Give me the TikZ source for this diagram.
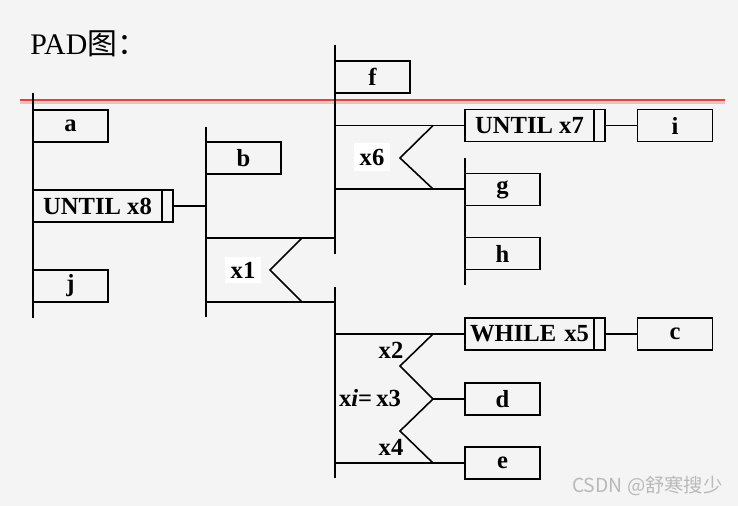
\documentclass[tikz,border=0pt]{standalone}
\usepackage{fontspec}
\setmainfont{Liberation Serif}
\newfontfamily\cjk{Noto Sans CJK SC}
\usetikzlibrary{positioning}
\definecolor{slidebg}{RGB}{244,244,244}
\definecolor{rulered}{RGB}{220,70,70}

\begin{document}
\begin{tikzpicture}[
	x=0.02cm, y=-0.02cm,
	every node/.style={font=\fontsize{14}{16}\selectfont\bfseries},
	box/.style={draw, line width=1.1pt, outer sep=0pt, inner sep=0pt, minimum width=1.5cm, minimum height=0.64cm},
	loopbox/.style={box, minimum width=2.58cm},
	endbar/.style={draw, line width=1.1pt, outer sep=0pt, inner sep=0pt, minimum width=0.22cm, minimum height=0.64cm},
	seq/.style={line width=1.1pt},
	fork/.style={line width=0.9pt},
	cond/.style={fill=white, inner sep=3pt},
	]
	
	\fill[slidebg] (0,0) rectangle (738,506);
	\useasboundingbox (0,0) rectangle (738,506);
	
	\node[font=\fontsize{17}{20}\selectfont, anchor=west, inner sep=0pt] (title) at (30,44) {PAD{\cjk 图：}};
	\draw[rulered!35, line width=2.5pt] (20,102) -- (725,102);
	\draw[rulered, line width=1.1pt] (20,100) -- (725,100);
	
	% sequence lines
	\coordinate (s1t) at (33,93);   \coordinate (s1b) at (33,318);
	\coordinate (s2t) at (206,127); \coordinate (s2b) at (206,317);
	\coordinate (s3t) at (335,45);  \coordinate (s3b) at (335,254);
	\coordinate (s4t) at (465,158); \coordinate (s4b) at (465,285);
	\coordinate (s5t) at (335,287); \coordinate (s5b) at (335,478);
	\foreach \s in {s1,s2,s3,s4,s5}
		\draw[seq] (\s t) -- (\s b);
	
	% boxes
	\node[box] (a) at (70.5,126) {a};
	\node[loopbox] (u8) at (97.5,206) {UNTIL x8};
	\node[endbar, right=0pt of u8] (u8e) {};
	\node[box] (j) at (70.5,286) {j};
	\node[box] (b) at (243.5,158) {b};
	\node[box] (f) at (372.5,77) {f};
	\node[loopbox] (u7) at (529.5,125.5) {UNTIL x7};
	\node[endbar, right=0pt of u7] (u7e) {};
	\node[box] (i) at (675,125.5) {i};
	\node[box] (g) at (502.5,189.5) {g};
	\node[box] (h) at (502.5,253.5) {h};
	\node[loopbox] (w5) at (529.5,334) {WHILE\,\,x5};
	\node[endbar, right=0pt of w5] (w5e) {};
	\node[box] (c) at (675,334) {c};
	\node[box] (d) at (502.5,399) {d};
	\node[box] (e) at (502.5,463) {e};
	
	\draw[seq] (u8e.east) -- (u8e.east -| s2t);
	\draw[seq] (u7e.east) -- (i.west);
	\draw[seq] (w5e.east) -- (c.west);
	
	% selection x1
	\coordinate (x1a) at (206,238); \coordinate (x1b) at (206,302);
	\draw[seq] (x1a) -- (x1a -| s3t);
	\draw[seq] (x1b) -- (x1b -| s5t);
	\draw[fork] (302,238) -- (270,270) -- (302,302);
	\node[cond] (x1) at (243,270) {x1};
	
	% selection x6
	\coordinate (x6a) at (335,125.5); \coordinate (x6b) at (335,189);
	\draw[seq] (x6a) -- (u7.west);
	\draw[seq] (x6b) -- (x6b -| s4t);
	\draw[fork] (433,125.5) -- (400,158) -- (433,189);
	\node[cond] (x6) at (372,157) {x6};
	
	% case xi
	\coordinate (cxa) at (335,334); \coordinate (cxb) at (433,399); \coordinate (cxc) at (335,463);
	\draw[seq] (cxa) -- (w5.west);
	\draw[seq] (cxb) -- (d.west);
	\draw[seq] (cxc) -- (e.west);
	\draw[fork] (433,334) -- (400,366) -- (cxb) -- (400,431) -- (433,463);
	\node (x2) at (391,350) {x2};
	\node (x3) at (370,398) {x\textit{i}=\,x3};
	\node (x4) at (391,447) {x4};
	
	\node[font=\cjk\fontsize{11}{13}\selectfont, text=gray!55, anchor=east, inner sep=0pt] (mark) at (723,486) {CSDN @舒寒搜少};
	
\end{tikzpicture}
\end{document}
